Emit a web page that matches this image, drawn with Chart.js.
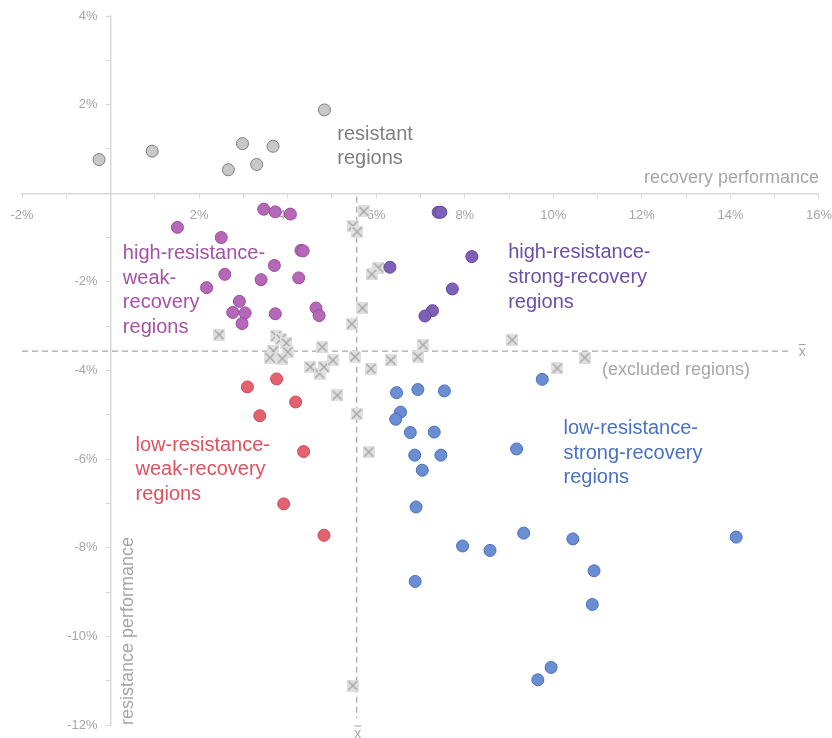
<!DOCTYPE html>
<html><head><meta charset="utf-8">
<script src="https://cdn.jsdelivr.net/npm/chart.js@4/dist/chart.umd.min.js"></script>
<style>html,body{margin:0;padding:0;background:#fff}#wrap{width:832px;height:738px;position:relative}</style>
</head><body><div id="wrap"><canvas id="c" width="832" height="738"></canvas></div>
<script>
// ---- data (recovery performance %, resistance performance %) ----
const resistantRecovery   = [-0.26, 0.94, 2.66, 2.98, 3.30, 3.67, 4.83];
const resistantResistance = [0.76, 0.95, 0.53, 1.12, 0.65, 1.06, 1.88];

const highWeakRecovery   = [1.51, 2.50, 3.46, 3.72, 4.06, 4.30, 4.35, 3.70, 2.58, 3.40, 4.25, 2.17, 2.91, 2.76, 3.04, 2.97, 3.72, 4.64, 4.71];
const highWeakResistance = [-0.77, -1.00, -0.36, -0.42, -0.47, -1.29, -1.30, -1.63, -1.83, -1.95, -1.91, -2.13, -2.44, -2.69, -2.70, -2.94, -2.72, -2.59, -2.76];

const highStrongRecovery   = [7.40, 7.46, 6.31, 8.16, 7.72, 7.27, 7.10];
const highStrongResistance = [-0.43, -0.43, -1.67, -1.43, -2.16, -2.65, -2.77];

const lowWeakRecovery   = [3.09, 3.75, 4.18, 3.37, 4.36, 3.91, 4.82];
const lowWeakResistance = [-4.37, -4.19, -4.71, -5.02, -5.83, -7.01, -7.72];

const lowStrongRecovery   = [6.46, 6.94, 7.54, 6.55, 6.44, 6.77, 7.31, 6.87, 7.46, 7.04, 6.90, 9.75, 9.17, 7.95, 8.57, 9.33, 10.44, 14.13, 10.92, 10.88, 6.88, 9.95, 9.65];
const lowStrongResistance = [-4.50, -4.43, -4.46, -4.94, -5.10, -5.40, -5.39, -5.91, -5.91, -6.25, -7.08, -4.20, -5.77, -7.96, -8.06, -7.67, -7.80, -7.76, -8.52, -9.28, -8.76, -10.70, -10.98];

const excludedRecovery   = [5.72, 5.47, 5.57, 6.05, 5.90, 5.69, 5.45, 2.45, 3.74, 3.85, 3.97, 4.78, 3.68, 4.00, 3.60, 3.88, 4.51, 4.72, 4.82, 5.02, 5.52, 5.88, 6.33, 6.94, 7.06, 5.12, 5.56, 5.83, 9.07, 10.71, 10.09, 5.47];
const excludedResistance = [-0.41, -0.74, -0.87, -1.68, -1.83, -2.59, -2.95, -3.19, -3.22, -3.29, -3.38, -3.47, -3.56, -3.58, -3.71, -3.73, -3.92, -4.07, -3.92, -3.77, -3.69, -3.96, -3.77, -3.69, -3.42, -4.56, -4.98, -5.84, -3.31, -3.71, -3.95, -11.11];

const meanRecovery = 5.56;
const meanResistance = -3.56;

const xTickValues = [-2, 2, 4, 6, 8, 10, 12, 14, 16];
const yTickValues = [-12, -10, -8, -6, -4, -2, 2, 4];

// ---- helpers ----
const pts = (xs, ys) => xs.map((x, i) => ({x, y: ys[i]}));

function makeExcludedMarker() {
  const c = document.createElement('canvas');
  c.width = 12; c.height = 12;
  const g = c.getContext('2d');
  g.fillStyle = '#e0e0e0';
  g.fillRect(0, 0, 12, 12);
  g.strokeStyle = '#a3a3a3';
  g.lineWidth = 1.3;
  g.beginPath();
  g.moveTo(1.5, 1.5); g.lineTo(10.5, 10.5);
  g.moveTo(10.5, 1.5); g.lineTo(1.5, 10.5);
  g.stroke();
  return c;
}

const FONT = '"Liberation Sans", Arial, sans-serif';
const notes = [
  {lines: ['resistant', 'regions'], x: 5.12, y: 1.206, color: '#7f7f7f'},
  {lines: ['high-resistance-', 'weak-', 'recovery', 'regions'], x: 0.278, y: -1.488, color: '#a452a6'},
  {lines: ['high-resistance-', 'strong-recovery', 'regions'], x: 8.98, y: -1.472, color: '#6b4ea6'},
  {lines: ['low-resistance-', 'weak-recovery', 'regions'], x: 0.564, y: -5.811, color: '#e0505f'},
  {lines: ['low-resistance-', 'strong-recovery', 'regions'], x: 10.23, y: -5.434, color: '#4a70c2'}
];

// offset the tick labels of the axes that cross at the origin
const labelOffsetPlugin = {
  id: 'labelOffset',
  beforeDraw(chart) {
    const shift = (s, dx, dy) => {
      const items = s.getLabelItems(chart.chartArea);
      if (!items._shifted) {
        items.forEach(it => { it.options.translation[0] += dx; it.options.translation[1] += dy; });
        items._shifted = true;
      }
    };
    shift(chart.scales.y, -13, 0);
    shift(chart.scales.x, 0, 10);
  }
};

const annotationPlugin = {
  id: 'annotations',
  afterDatasetsDraw(chart) {
    const ctx = chart.ctx, xs = chart.scales.x, ys = chart.scales.y;
    ctx.save();
    ctx.textBaseline = 'alphabetic';
    ctx.textAlign = 'left';
    ctx.font = '20px ' + FONT;
    notes.forEach(n => {
      ctx.fillStyle = n.color;
      const px = xs.getPixelForValue(n.x), py = ys.getPixelForValue(n.y);
      n.lines.forEach((t, i) => ctx.fillText(t, px, py + i * 24.6));
    });
    // excluded label
    ctx.font = '18px ' + FONT;
    ctx.fillStyle = '#a6a6a6';
    ctx.fillText('(excluded regions)', xs.getPixelForValue(11.10), ys.getPixelForValue(-4.104));
    // axis titles
    ctx.textAlign = 'right';
    ctx.fillText('recovery performance', xs.getPixelForValue(16), ys.getPixelForValue(0.225));
    ctx.save();
    ctx.translate(xs.getPixelForValue(0.508), ys.getPixelForValue(-12));
    ctx.rotate(-Math.PI / 2);
    ctx.textAlign = 'left';
    ctx.fillText('resistance performance', 0, 0);
    ctx.restore();
    // mean markers (x-bar)
    ctx.font = '14px ' + FONT;
    ctx.textAlign = 'center';
    ctx.strokeStyle = '#a6a6a6';
    ctx.lineWidth = 1;
    const bars = [
      {x: xs.getPixelForValue(15.62), y: ys.getPixelForValue(meanResistance) + 5},
      {x: xs.getPixelForValue(meanRecovery) + 1, y: ys.getPixelForValue(-12) + 12.5}
    ];
    bars.forEach(b => {
      ctx.fillText('x', b.x, b.y);
      ctx.beginPath();
      ctx.moveTo(b.x - 3.5, b.y - 11.5);
      ctx.lineTo(b.x + 3.5, b.y - 11.5);
      ctx.stroke();
    });
    ctx.restore();
  }
};

const pointStyleBase = {showLine: false, pointRadius: 6, pointHoverRadius: 6, borderWidth: 1};
const excludedMarker = makeExcludedMarker();

const tickFont = {family: FONT, size: 13};
const axisGray = '#d9d9d9';
const labelGray = '#a6a6a6';

new Chart(document.getElementById('c'), {
  type: 'scatter',
  data: {
    datasets: [
      Object.assign({label: 'resistant regions', data: pts(resistantRecovery, resistantResistance),
        backgroundColor: '#c8c8c8', borderColor: '#7d7d7d', order: 1}, pointStyleBase),
      Object.assign({label: 'high-resistance-weak-recovery', data: pts(highWeakRecovery, highWeakResistance),
        backgroundColor: '#b668b8', borderColor: '#9a4c9c', order: 1}, pointStyleBase),
      Object.assign({label: 'high-resistance-strong-recovery', data: pts(highStrongRecovery, highStrongResistance),
        backgroundColor: '#7e60b8', borderColor: '#6447a0', order: 1}, pointStyleBase),
      Object.assign({label: 'low-resistance-weak-recovery', data: pts(lowWeakRecovery, lowWeakResistance),
        backgroundColor: '#e2626f', borderColor: '#cf4858', order: 1}, pointStyleBase),
      Object.assign({label: 'low-resistance-strong-recovery', data: pts(lowStrongRecovery, lowStrongResistance),
        backgroundColor: '#6b8ed2', borderColor: '#4a70c0', order: 1}, pointStyleBase),
      {label: 'excluded regions', data: pts(excludedRecovery, excludedResistance), showLine: false,
        pointStyle: excludedMarker, pointRadius: 6, order: 2},
      {label: 'mean resistance', type: 'line', data: [{x: -2, y: meanResistance}, {x: 15.33, y: meanResistance}],
        borderColor: '#a9a9a9', borderWidth: 1.25, borderDash: [6, 4], pointRadius: 0, fill: false, order: 3},
      {label: 'mean recovery', type: 'line', data: [{x: meanRecovery, y: -0.08}, {x: meanRecovery, y: -11.85}],
        borderColor: '#a9a9a9', borderWidth: 1.25, borderDash: [6, 4], pointRadius: 0, fill: false, order: 3}
    ]
  },
  options: {
    responsive: false,
    animation: false,
    devicePixelRatio: 1,
    layout: {padding: {left: 22, right: 13, top: 16, bottom: 13}},
    plugins: {legend: {display: false}, tooltip: {enabled: false}},
    scales: {
      x: {
        type: 'linear', min: -2, max: 16, position: {y: 0},
        afterBuildTicks: s => { s.ticks = []; for (let v = -2; v <= 16; v++) s.ticks.push({value: v}); },
        ticks: {autoSkip: false, maxRotation: 0, color: labelGray, font: tickFont, padding: 0,
          callback: v => xTickValues.includes(v) ? v + '%' : ''},
        grid: {drawOnChartArea: false, drawTicks: true, tickLength: 4, tickColor: axisGray, tickWidth: 1.25},
        border: {color: axisGray, width: 1.5}
      },
      y: {
        type: 'linear', min: -12, max: 4, position: {x: 0},
        afterBuildTicks: s => { s.ticks = []; for (let v = -12; v <= 4; v++) s.ticks.push({value: v}); },
        ticks: {autoSkip: false, color: labelGray, font: tickFont, padding: 0,
          callback: v => yTickValues.includes(v) ? v + '%' : ''},
        grid: {drawOnChartArea: false, drawTicks: true, tickLength: 4, tickColor: axisGray, tickWidth: 1.25},
        border: {color: axisGray, width: 1.5}
      }
    }
  },
  plugins: [labelOffsetPlugin, annotationPlugin]
});
</script></body></html>
